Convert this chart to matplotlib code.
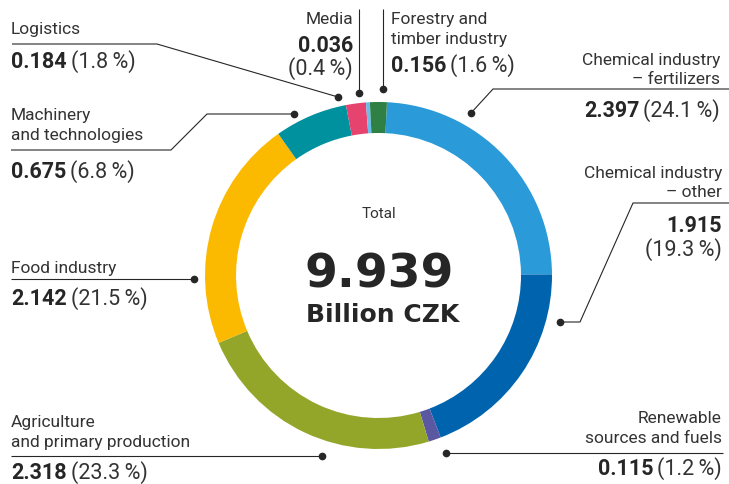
import numpy as np
import matplotlib
matplotlib.use('Agg')
import matplotlib.pyplot as plt

# data
sectors = ['Chemical industry – fertilizers', 'Chemical industry – other',
           'Renewable sources and fuels', 'Agriculture and primary production',
           'Food industry', 'Machinery and technologies', 'Logistics',
           'Media', 'Forestry and timber industry']
values = [2.397, 1.915, 0.115, 2.318, 2.142, 0.675, 0.184, 0.036, 0.156]
shares = [24.1, 19.3, 1.2, 23.3, 21.5, 6.8, 1.8, 0.4, 1.6]
colors = ['#2a9bd8', '#0063ae', '#5b58a2', '#94a62a', '#fbb900',
          '#00919e', '#e6436f', '#6cbdea', '#2e8044']
total = 9.939

W, H = 729, 485
ink = '#262626'
lab_font = 'Roboto'
val_size = 15.5

fig = plt.figure(figsize=(W / 100, H / 100), dpi=100)
ax = fig.add_axes([0, 0, 1, 1])

def Y(y):
    return H - y

# donut (pixel coordinates, y measured from top)
cx, cy, r = 378.5, 276.5, 173.5
ax.pie(values, colors=colors, startangle=90 - 2.8, counterclock=False,
       radius=r, center=(cx, Y(cy)),
       wedgeprops=dict(width=31, edgecolor='none'))
ax.set_xlim(0, W)
ax.set_ylim(0, H)
ax.set_aspect('equal')
ax.axis('off')

renderer = fig.canvas.get_renderer()

def label(x, y, s, ha='left', size=12.5):
    return ax.text(x, Y(y), s, ha=ha, va='baseline', fontsize=size,
                   family=lab_font, weight='normal', color='#333333')

bold = dict(va='baseline', fontsize=val_size, family=lab_font,
            weight='bold', color=ink)
reg = dict(va='baseline', fontsize=val_size, family=lab_font,
           weight='normal', color='#333333')

def value(x, y, i, ha='left', split=False):
    num = '%.3f' % values[i]
    pct = '(%.1f\u2009%%)' % shares[i]
    if split:
        ax.text(x, Y(y), num, ha=ha, **bold)
        ax.text(x, Y(y + 24), pct, ha=ha, **reg)
        return
    if ha == 'left':
        t = ax.text(x, Y(y), num, ha='left', **bold)
        w = t.get_window_extent(renderer).width
        ax.text(x + w + 4, Y(y), pct, ha='left', **reg)
    else:
        t = ax.text(x, Y(y), pct, ha='right', **reg)
        w = t.get_window_extent(renderer).width
        ax.text(x - w - 4, Y(y), num, ha='right', **bold)

def leader(xs, ys):
    ax.plot(xs, [Y(v) for v in ys], color=ink, lw=0.8, solid_capstyle='butt')
    ax.plot(xs[-1], Y(ys[-1]), 'o', color=ink, ms=4.5)

# chemical fertilizers
label(720, 65, 'Chemical industry', ha='right')
label(720, 84, '– fertilizers', ha='right')
value(720, 117, 0, ha='right')
leader([729, 493, 471], [90, 90, 114])

# chemical other
label(722, 178, 'Chemical industry', ha='right')
label(722, 197, '– other', ha='right')
value(722, 232, 1, ha='right', split=True)
leader([729, 633, 580, 560], [204, 204, 323, 323])

# renewable
label(722, 423, 'Renewable', ha='right')
label(722, 443, 'sources and fuels', ha='right')
value(722, 475, 2, ha='right')
leader([723, 446], [454, 454])

# agriculture
label(11, 427, 'Agriculture')
label(11, 447, 'and primary production')
value(11, 479, 3)
leader([11, 322], [457, 457])

# food
label(11, 273, 'Food industry')
value(11, 305, 4)
leader([11, 194], [280, 280])

# machinery
label(11, 120, 'Machinery')
label(11, 140, 'and technologies')
value(11, 178, 5)
leader([11, 171, 207, 294], [151, 151, 115, 115])

# logistics
label(11, 34, 'Logistics')
value(11, 68, 6)
leader([12, 157, 338], [45, 45, 98])

# media
label(353, 24, 'Media', ha='right')
ax.text(353, Y(52), '%.3f' % values[7], ha='right', **bold)
ax.text(353, Y(75), '(%.1f\u2009%%)' % shares[7], ha='right', **reg)
leader([359, 359], [10, 94])

# forestry
label(391, 24, 'Forestry and')
label(391, 44, 'timber industry')
value(391, 72, 8)
leader([383, 383], [10, 90])

# centre
ax.text(cx, Y(218), 'Total', ha='center', va='baseline', fontsize=11,
        family=lab_font, weight='normal', color='#333333')
ax.text(cx + 1, Y(287), '%.3f' % total, ha='center', va='baseline',
        fontsize=34, family='DejaVu Sans', weight='bold', color=ink)
ax.text(cx + 4, Y(322), 'Billion CZK', ha='center', va='baseline',
        fontsize=18, family='DejaVu Sans', weight='bold', color=ink)

fig.savefig('out.png', dpi=100)
